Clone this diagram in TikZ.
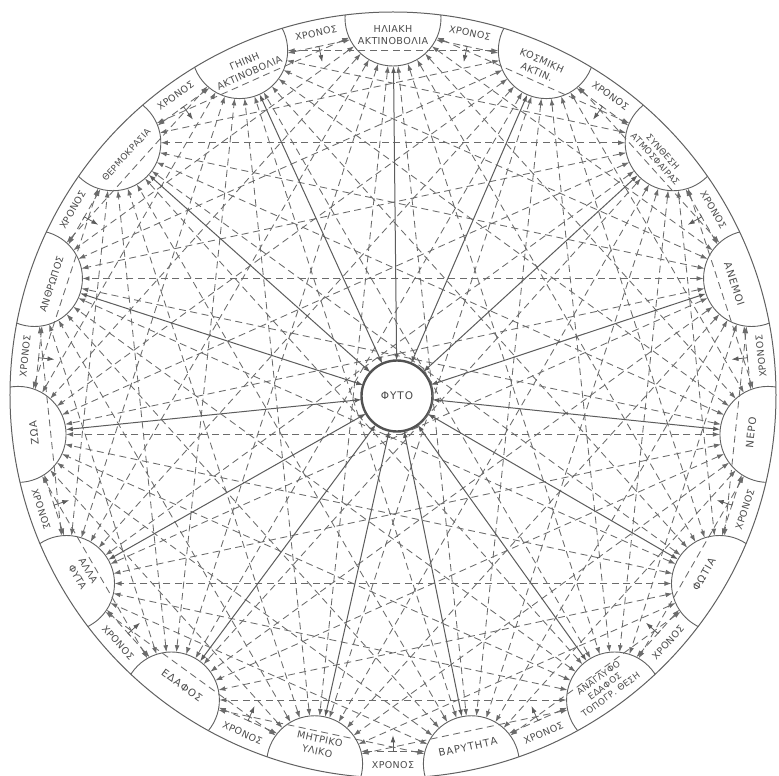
\documentclass[tikz,border=0pt]{standalone}
\usepackage{fontspec}
\setmainfont{DejaVu Sans}
\newfontfamily\grk[LetterSpace=4.0]{DejaVu Sans}
\newfontfamily\grkwide[LetterSpace=9.0]{DejaVu Sans}
\usetikzlibrary{arrows.meta}
\begin{document}
\begin{tikzpicture}[x=1pt,y=1pt,
  >={Latex[length=7pt,width=4.8pt]},
  rimnode/.style={circle,draw=black!62,line width=0.9pt,minimum size=96pt,inner sep=0pt,outer sep=0pt},
  dashlink/.style={draw=black!58,line width=0.85pt,dash pattern=on 7pt off 4.5pt,<->},
  solidlink/.style={draw=black!64,line width=1pt,<->},
  lbl/.style={inner sep=0pt,align=center,text=black!70,font=\grk\fontsize{9.6}{12.5}\selectfont},
  widelbl/.style={lbl,font=\grkwide\fontsize{10.2}{12.5}\selectfont},
  smalllbl/.style={lbl,font=\grk\fontsize{8.8}{10.4}\selectfont},
  chrono/.style={inner sep=0pt,text=black!70,font=\grk\fontsize{9.5}{11}\selectfont},
  hookarrow/.style={draw=black!64,line width=0.8pt,->},
  fytonode/.style={circle,draw=black!68,line width=2.4pt,minimum size=71pt,inner sep=0pt,outer sep=0pt,text=black!72,font=\grkwide\fontsize{10.5}{12}\selectfont}
]
\useasboundingbox (-393,-381) rectangle (386,395);
\fill[white] (-393,-381) rectangle (386,395);

% rim nodes, clipped to the big circle
\begin{scope}
  \clip (0,0) circle (383);
  \foreach \k in {0,...,14} \node[rimnode] (n\k) at ({90-24*\k}:377) {};
\end{scope}
\draw[black!62,line width=1pt] (0,0) circle (383);

% centre
\node[fytonode] (fyto) at (4,-1) {ΦΥΤΟ};

% labels
\node[lbl,rotate=0]   (l0)  at (90:360)   {ΗΛΙΑΚΗ\\ΑΚΤΙΝΟΒΟΛΙΑ};
\node[lbl,rotate=-24] (l1)  at (66:360)   {ΚΟΣΜΙΚΗ\\ΑΚΤΙΝ.};
\node[smalllbl,rotate=-48] (l2) at (42:358) {ΣΥΝΘΕΣΗ\\ΑΤΜΟΣΦΑΙΡΑΣ};
\node[widelbl,rotate=-72] (l3)  at (18:359)   {ΑΝΕΜΟΙ};
\node[widelbl,rotate=84]  (l4)  at (-6:360)   {ΝΕΡΟ};
\node[widelbl,rotate=60]  (l5)  at (-30:359)  {ΦΩΤΙΑ};
\node[smalllbl,rotate=36] (l6) at (-54:360) {ΑΝΑΓΛΥΦΟ\\ΕΔΑΦΟΣ\\ΤΟΠΟΓΡ. ΘΕΣΗ};
\node[widelbl,rotate=12]  (l7)  at (-78:360)  {ΒΑΡΥΤΗΤΑ};
\node[lbl,rotate=-12] (l8)  at (-102:358) {ΜΗΤΡΙΚΟ\\ΥΛΙΚΟ};
\node[widelbl,rotate=-36] (l9)  at (-126:359) {ΕΔΑΦΟΣ};
\node[lbl,rotate=-60] (l10) at (-150:358) {ΑΛΛΑ\\ΦΥΤΑ};
\node[widelbl,rotate=96]  (l11) at (-174:361) {ΖΩΑ};
\node[lbl,rotate=72]  (l12) at (162:359)  {ΑΝΘΡΩΠΟΣ};
\node[smalllbl,rotate=48] (l13) at (138:359) {ΘΕΡΜΟΚΡΑΣΙΑ};
\node[lbl,rotate=24]  (l14) at (114:359)  {ΓΗΙΝΗ\\ΑΚΤΙΝΟΒΟΛΙΑ};

% ΧΡΟΝΟΣ labels
\foreach \k/\rot in {0/-12,1/-36,2/-60,3/96,4/72,5/48,6/24,7/0,8/-24,9/-48,10/-72,11/84,12/60,13/36,14/12}
  \node[chrono,rotate=\rot] (c\k) at ({78-24*\k}:370) {ΧΡΟΝΟΣ};

% links between neighbouring nodes, with the small ΧΡΟΝΟΣ arrows
\foreach \k in {0,...,14}{
  \pgfmathtruncatemacro{\j}{mod(\k+1,15)}
  \pgfmathtruncatemacro{\ai}{90-24*\k-117}
  \pgfmathtruncatemacro{\aj}{90-24*\k-24+117}
  \pgfmathtruncatemacro{\m}{78-24*\k}
  \draw[dashlink] (n\k.\ai) -- (n\j.\aj) coordinate[pos=0.5] (m\k);
  \path (m\k) ++(\m+180:16) coordinate (t\k);
  \draw[hookarrow] (m\k) ++(\m+90:4) -- (m\k) -- (t\k);
}

% links between all other pairs
\foreach \i in {0,...,12}{
  \pgfmathtruncatemacro{\js}{\i+2}
  \foreach \j in {\js,...,14}{
    \ifnum\numexpr100*\i+\j\relax=14 \else \draw[dashlink] (n\i) -- (n\j); \fi
  }
}

% links to the plant
\foreach \k in {0,...,14} \draw[solidlink] (n\k) -- (fyto);
\end{tikzpicture}
\end{document}
